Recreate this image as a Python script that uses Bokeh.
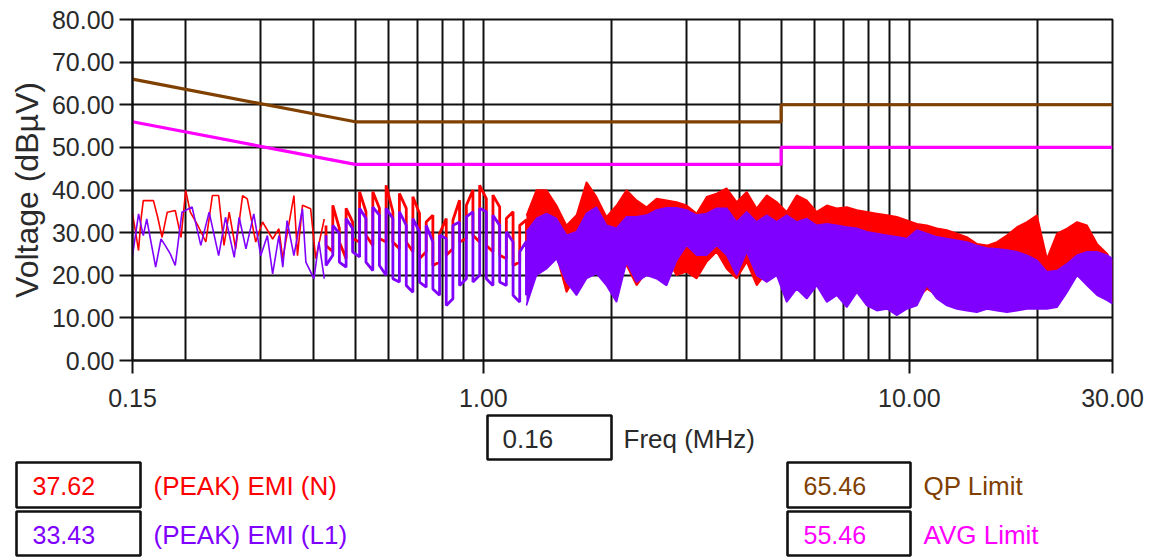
from bokeh.plotting import figure
from bokeh.models import Range1d, FixedTicker, PrintfTickFormatter
from bokeh.embed import file_html
from bokeh.resources import INLINE
from bokeh.core.properties import value

# ---------------- data ----------------
# limit lines (MHz, dBuV)
qp_freq = [0.15, 0.5, 5.0, 5.0, 30.0]
qp_level = [66.0, 56.0, 56.0, 60.0, 60.0]
avg_freq = [0.15, 0.5, 5.0, 5.0, 30.0]
avg_level = [56.0, 46.0, 46.0, 50.0, 50.0]

# low-frequency part of the traces (peaks, plateaus and troughs)
n_low_freq = [0.150, 0.152, 0.155, 0.157, 0.159, 0.168, 0.172, 0.176, 0.181, 0.189,
              0.195, 0.200, 0.205, 0.214, 0.223, 0.231, 0.239, 0.246, 0.253, 0.262,
              0.272, 0.279, 0.292, 0.303, 0.320, 0.331, 0.338, 0.359, 0.366, 0.376,
              0.393, 0.404, 0.423]
n_low_level = [34.4, 31.0, 25.8, 33.0, 37.5, 37.5, 33.5, 28.9, 34.8, 35.2,
               28.9, 39.9, 34.8, 31.5, 27.8, 38.7, 38.7, 27.0, 34.8, 26.2,
               38.7, 37.9, 27.8, 32.5, 28.5, 30.9, 23.9, 38.7, 24.6, 36.4,
               35.6, 23.9, 33.2]
l1_low_freq = [0.150, 0.155, 0.159, 0.162, 0.166, 0.170, 0.175, 0.179, 0.184, 0.189,
               0.196, 0.207, 0.217, 0.227, 0.239, 0.248, 0.260, 0.267, 0.277, 0.289,
               0.300, 0.311, 0.320, 0.331, 0.338, 0.346, 0.359, 0.376, 0.383, 0.400,
               0.411, 0.423]
l1_low_level = [24.6, 34.4, 29.3, 33.2, 27.5, 21.9, 28.5, 27.0, 25.0, 22.3,
                34.8, 36.0, 27.0, 34.8, 24.6, 33.6, 24.2, 33.6, 26.2, 34.4,
                24.6, 29.3, 20.3, 29.3, 21.9, 32.8, 24.6, 35.6, 23.1, 19.2,
                27.8, 19.2]

# mid part: dense oscillation, upper / lower extremes per sample
comb_freq = [0.427, 0.443, 0.459, 0.476, 0.493, 0.512, 0.530, 0.550, 0.570, 0.591,
             0.613, 0.635, 0.659, 0.683, 0.708, 0.734, 0.761, 0.789, 0.818, 0.848,
             0.879, 0.912, 0.945, 0.980, 1.016, 1.053, 1.092, 1.132, 1.174, 1.217, 1.262]
n_comb_hi = [31.7, 36.4, 31.0, 35.7, 32.5, 39.6, 34.9, 39.6, 35.7, 41.1,
             34.9, 39.2, 35.7, 38.4, 34.5, 32.5, 34.1, 29.8, 33.3, 32.9,
             37.6, 36.4, 40.0, 41.1, 38.0, 38.8, 36.0, 33.3, 34.9, 31.7, 33.0]
n_comb_lo = [27.0, 25.5, 27.8, 23.9, 28.6, 27.8, 29.4, 27.0, 28.6, 27.8,
             27.8, 26.2, 27.8, 25.5, 23.9, 25.5, 22.3, 23.1, 24.7, 26.2,
             27.8, 28.6, 29.4, 27.8, 27.0, 25.5, 24.7, 23.9, 22.3, 23.1, 21.5]
l1_comb_hi = [29.4, 31.7, 29.8, 33.3, 31.0, 35.7, 33.3, 36.0, 34.1, 35.7,
              33.3, 34.9, 31.7, 33.3, 30.2, 31.7, 27.8, 29.4, 28.6, 31.7,
              32.5, 33.7, 34.9, 35.7, 34.9, 34.1, 31.7, 30.2, 27.8, 25.5, 28.0]
l1_comb_lo = [22.3, 24.7, 23.1, 21.9, 25.5, 24.3, 23.1, 21.1, 22.3, 20.0,
              19.2, 18.4, 17.6, 16.0, 18.4, 17.2, 16.8, 15.3, 12.9, 14.5,
              17.6, 19.2, 18.4, 20.0, 19.2, 17.6, 18.4, 17.6, 15.3, 13.7, 15.3]

# high part: solid band, upper / lower envelope
band_freq = [1.262, 1.332, 1.406, 1.485, 1.567, 1.654, 1.746, 1.843, 1.946, 2.054,
             2.168, 2.289, 2.416, 2.550, 2.692, 2.842, 3.000, 3.167, 3.343, 3.529,
             3.725, 3.932, 4.151, 4.382, 4.626, 4.883, 5.155, 5.441, 5.744, 6.063,
             6.401, 6.757, 7.132, 7.529, 7.948, 8.390, 8.857, 9.349, 9.869,
             10.42, 11.00, 11.61, 12.25, 12.94, 13.65, 14.41, 15.22, 16.06, 16.96,
             17.90, 18.89, 19.94, 21.05, 22.22, 23.46, 24.77, 26.14, 27.60, 29.13, 30.0]
n_band_hi = [34.0, 40.0, 40.0, 36.4, 31.7, 34.1, 41.9, 38.4, 33.7, 36.4,
             40.0, 37.6, 36.0, 38.0, 37.6, 37.2, 36.4, 34.5, 38.4, 39.2,
             40.4, 37.2, 39.6, 35.7, 38.8, 37.2, 34.9, 38.8, 37.6, 34.9,
             36.4, 35.7, 36.0, 35.3, 34.9, 34.5, 34.1, 33.7, 32.9,
             32.1, 31.7, 31.0, 30.6, 29.8, 29.0, 27.4, 27.0, 27.8, 29.4,
             31.3, 32.5, 34.1, 23.9, 29.8, 31.0, 32.5, 31.7, 27.4, 25.1, 23.1]
n_band_lo = [20.0, 21.5, 23.1, 24.7, 16.0, 20.0, 20.8, 21.5, 18.4, 20.0,
             22.3, 17.6, 20.8, 20.8, 23.9, 20.0, 20.8, 19.2, 23.1, 25.5,
             21.5, 19.2, 23.1, 17.6, 20.8, 20.8, 17.6, 18.4, 20.0, 19.2,
             18.4, 20.0, 17.6, 18.4, 17.6, 16.8, 16.0, 15.3, 15.3,
             14.5, 16.8, 15.3, 13.7, 13.3, 12.9, 12.5, 12.9, 12.5, 12.5,
             12.5, 12.9, 13.3, 13.7, 13.7, 16.8, 20.0, 18.4, 16.0, 14.5, 13.7]
l1_band_hi = [30.2, 33.3, 34.5, 33.3, 29.4, 30.2, 34.5, 36.0, 31.7, 31.0,
              33.7, 33.7, 34.1, 35.3, 35.8, 35.8, 35.3, 34.1, 34.5, 35.7,
              35.7, 32.5, 34.9, 32.5, 34.1, 32.5, 34.1, 32.5, 33.3, 31.7,
              32.1, 31.7, 31.3, 31.0, 30.2, 29.8, 29.4, 29.0, 28.6,
              30.6, 29.8, 29.0, 28.6, 28.2, 27.8, 27.0, 26.4, 26.2, 25.9,
              25.5, 24.7, 23.5, 20.8, 21.1, 22.7, 24.7, 25.5, 25.5, 24.7, 23.9]
l1_band_lo = [12.9, 20.0, 21.5, 23.9, 18.4, 15.3, 19.2, 20.4, 17.6, 13.7,
              23.1, 18.4, 20.0, 19.2, 17.6, 23.5, 27.0, 24.7, 24.7, 27.0,
              24.7, 20.0, 25.5, 20.0, 18.4, 20.0, 13.7, 16.8, 14.5, 17.6,
              13.7, 15.3, 12.5, 16.0, 12.9, 11.7, 12.1, 10.6, 12.1,
              12.9, 17.6, 14.5, 12.9, 12.1, 11.7, 11.3, 12.1, 11.7, 11.3,
              11.7, 12.1, 12.1, 12.1, 12.5, 16.0, 20.0, 17.6, 15.3, 14.1, 13.3]

x_tick_values = [0.15, 1.0, 10.0, 30.0]
x_grid_values = [0.2, 0.3, 0.4, 0.5, 0.6, 0.7, 0.8, 0.9, 1.0, 2.0, 3.0, 4.0, 5.0,
                 6.0, 7.0, 8.0, 9.0, 10.0, 20.0, 30.0]
y_tick_values = [0, 10, 20, 30, 40, 50, 60, 70, 80]

y_axis_title = "Voltage (dBµV)"
x_axis_title = "Freq (MHz)"
cursor_text = "0.16"
legend_names = ["(PEAK) EMI (N)", "(PEAK) EMI (L1)", "QP Limit", "AVG Limit"]
legend_readouts = ["37.62", "33.43", "65.46", "55.46"]

RED = "#ff0000"
VIOLET = "#8000ff"
BROWN = "#804000"
MAGENTA = "#ff00ff"
FONT = "Liberation Sans"
TXT = "#2a2a2a"
INK = "#111111"

# ---------------- main plot ----------------
W = 1150
H1 = 410
p = figure(width=W, height=H1, x_axis_type="log",
           x_range=Range1d(0.15, 30), y_range=Range1d(0, 80),
           output_backend="svg", toolbar_location=None,
           min_border_left=132, min_border_right=W - 1112,
           min_border_top=19, min_border_bottom=H1 - 360)
p.background_fill_color = "white"
p.border_fill_color = "white"
p.outline_line_color = INK
p.outline_line_width = 2

p.xaxis.ticker = FixedTicker(ticks=x_tick_values)
p.yaxis.ticker = FixedTicker(ticks=y_tick_values)
p.xaxis.formatter = PrintfTickFormatter(format="%.2f")
p.yaxis.formatter = PrintfTickFormatter(format="%.2f")
for ax in (p.xaxis, p.yaxis):
    ax.axis_line_color = INK
    ax.axis_line_width = 2
    ax.major_tick_line_color = INK
    ax.major_tick_line_width = 2
    ax.major_tick_in = 0
    ax.major_tick_out = 13
    ax.minor_tick_line_color = None
    ax.major_label_text_font = FONT
    ax.major_label_text_font_size = "25px"
    ax.major_label_text_color = TXT
p.xaxis.major_label_standoff = 15
p.yaxis.major_label_standoff = 5
p.yaxis.axis_label = y_axis_title
p.yaxis.axis_label_text_font = FONT
p.yaxis.axis_label_text_font_size = "32px"
p.yaxis.axis_label_text_font_style = "normal"
p.yaxis.axis_label_text_color = TXT
p.yaxis.axis_label_standoff = 4

p.xgrid.ticker = FixedTicker(ticks=x_grid_values)
p.ygrid.ticker = FixedTicker(ticks=y_tick_values)
for g in (p.xgrid, p.ygrid):
    g.grid_line_color = INK
    g.grid_line_width = 2
    g.grid_line_alpha = 1.0


def square_wave(freq, hi, lo):
    xs, ys = [], []
    for i, (f, h, l) in enumerate(zip(freq, hi, lo)):
        xs += [f, f]
        ys += [h, l] if i % 2 == 0 else [l, h]
    return xs, ys


def draw_series(color, low_f, low_v, c_hi, c_lo, b_hi, b_lo):
    p.line(low_f, low_v, line_color=color, line_width=1.6)
    sx, sy = square_wave(comb_freq, c_hi, c_lo)
    p.line(sx, sy, line_color=color, line_width=2.8)
    p.varea(x=band_freq, y1=b_lo, y2=b_hi, fill_color=color)
    p.line(band_freq, b_hi, line_color=color, line_width=1.6)
    p.line(band_freq, b_lo, line_color=color, line_width=1.6)


draw_series(RED, n_low_freq, n_low_level, n_comb_hi, n_comb_lo, n_band_hi, n_band_lo)
draw_series(VIOLET, l1_low_freq, l1_low_level, l1_comb_hi, l1_comb_lo, l1_band_hi, l1_band_lo)

p.line(qp_freq, qp_level, line_color=BROWN, line_width=3.2)
p.line(avg_freq, avg_level, line_color=MAGENTA, line_width=3.2)

# ---------------- readout / legend strip ----------------
H2 = 150
TOP = H1
leg = figure(width=W, height=H2, x_range=Range1d(0, W),
             y_range=Range1d(TOP + H2, TOP),
             output_backend="svg", toolbar_location=None,
             x_axis_location=None, y_axis_location=None,
             min_border=0, min_border_left=0, min_border_right=0,
             min_border_top=0, min_border_bottom=0)
leg.grid.visible = False
leg.outline_line_color = None
leg.background_fill_color = "white"
leg.border_fill_color = "white"

# cursor frequency box
leg.quad(left=[487], right=[611], top=[415], bottom=[459],
         fill_color="white", line_color=INK, line_width=2.6)
leg.text(x=[502], y=[438], text=[cursor_text], text_font=value(FONT),
         text_font_size="26px", text_color=TXT, text_baseline="middle")
leg.text(x=[623], y=[438], text=[x_axis_title], text_font=value(FONT),
         text_font_size="26px", text_color=TXT, text_baseline="middle")

box_left = [16, 16, 787, 787]
box_right = [140, 140, 910, 910]
box_top = [462, 511, 462, 511]
box_bottom = [507, 555, 507, 555]
leg_colors = [RED, VIOLET, BROWN, MAGENTA]
leg.quad(left=box_left, right=box_right, top=box_top, bottom=box_bottom,
         fill_color="white", line_color=INK, line_width=2.6)
mid = [(t + b) / 2 + 1 for t, b in zip(box_top, box_bottom)]
leg.text(x=[l + 16 for l in box_left], y=mid, text=legend_readouts,
         text_font=value(FONT), text_font_size="25px", text_color=leg_colors,
         text_baseline="middle")
leg.text(x=[r + 13 for r in box_right], y=mid, text=legend_names,
         text_font=value(FONT), text_font_size="26px", text_color=leg_colors,
         text_baseline="middle")

open("out.html", "w").write(file_html([p, leg], INLINE))
